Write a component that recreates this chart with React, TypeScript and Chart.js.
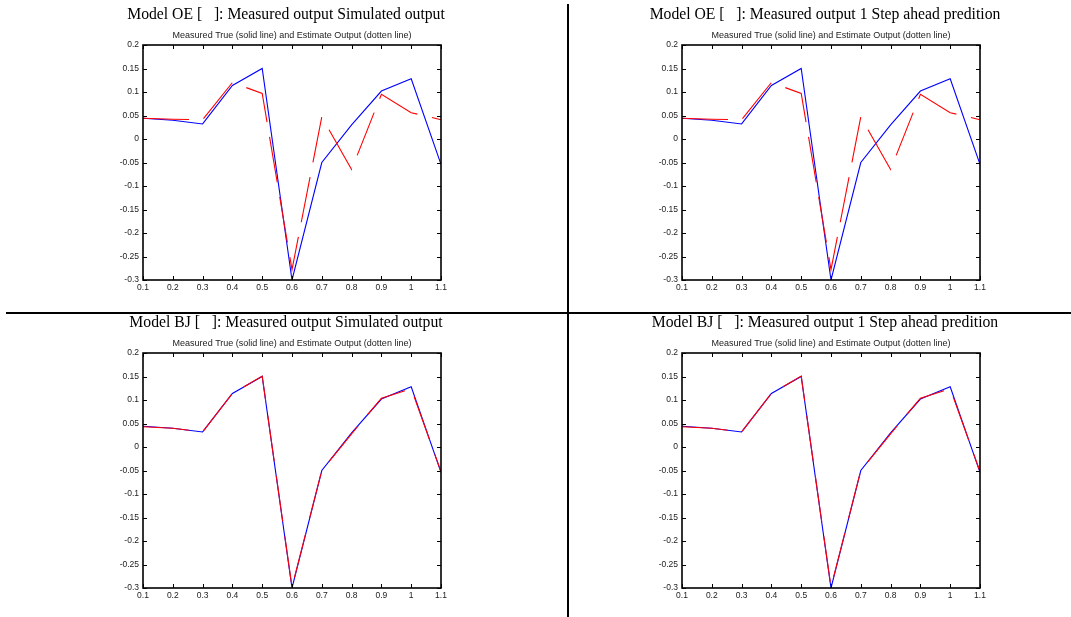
import React, { useEffect, useRef } from "react";
import { Chart, registerables } from "chart.js";

Chart.register(...registerables);

// ---------------- data ----------------
const xValues = [0.1, 0.2, 0.3, 0.4, 0.5, 0.6, 0.7, 0.8, 0.9, 1.0, 1.1];

const measuredOutput = [0.044, 0.040, 0.032, 0.114, 0.150, -0.300, -0.050, 0.030, 0.102, 0.128, -0.054];
const oeSimulated = [0.044, 0.042, 0.041, 0.120, 0.097, -0.278, 0.047, -0.065, 0.095, 0.056, 0.041];
const oePredicted = [0.044, 0.042, 0.041, 0.120, 0.097, -0.278, 0.047, -0.065, 0.095, 0.056, 0.041];
const bjSimulated = [0.043, 0.040, 0.032, 0.114, 0.151, -0.298, -0.050, 0.028, 0.104, 0.124, -0.052];
const bjPredicted = [0.043, 0.040, 0.032, 0.114, 0.151, -0.298, -0.050, 0.028, 0.104, 0.124, -0.052];

const xTicks = [0.1, 0.2, 0.3, 0.4, 0.5, 0.6, 0.7, 0.8, 0.9, 1.0, 1.1];
const yTicks = [-0.3, -0.25, -0.2, -0.15, -0.1, -0.05, 0, 0.05, 0.1, 0.15, 0.2];

const panelTitles = [
  "Model OE [   ]: Measured output Simulated output",
  "Model OE [   ]: Measured output 1 Step ahead predition",
  "Model BJ [   ]: Measured output Simulated output",
  "Model BJ [   ]: Measured output 1 Step ahead predition",
];
const subtitleText = "Measured True (solid line) and Estimate Output (dotten line)";

const fmt = (v: number) => String(Number(Number(v).toFixed(2)));

// ---------------- layout of the four panels ----------------
type Panel = {
  left: number; top: number; width: number; height: number;
  padTop: number; padRight: number; yAxisW: number; xAxisH: number;
  title: string; estimate: number[];
};

const panels: Panel[] = [
  { left: 0, top: 0, width: 566, height: 312, padTop: 45, padRight: 125, yAxisW: 143, xAxisH: 32, title: panelTitles[0], estimate: oeSimulated },
  { left: 570, top: 0, width: 501, height: 312, padTop: 45, padRight: 91, yAxisW: 112, xAxisH: 32, title: panelTitles[1], estimate: oePredicted },
  { left: 0, top: 315, width: 566, height: 302, padTop: 38, padRight: 125, yAxisW: 143, xAxisH: 29, title: panelTitles[2], estimate: bjSimulated },
  { left: 570, top: 315, width: 501, height: 302, padTop: 38, padRight: 91, yAxisW: 112, xAxisH: 29, title: panelTitles[3], estimate: bjPredicted },
];

const framePlugin = {
  id: "matlabFrame",
  afterDatasetsDraw(chart: any, _args: any, opts: any) {
    const { ctx, chartArea } = chart;
    const { left, top, right, bottom } = chartArea;
    const xs = chart.scales.x;
    const ys = chart.scales.y;
    ctx.save();
    ctx.strokeStyle = "#000";
    ctx.lineWidth = 1;
    ctx.beginPath();
    const tl = 4;
    xs.ticks.forEach((t: any) => {
      const px = Math.round(xs.getPixelForValue(t.value)) + 0.5;
      ctx.moveTo(px, bottom);
      ctx.lineTo(px, bottom - tl);
      ctx.moveTo(px, top);
      ctx.lineTo(px, top + tl);
    });
    ys.ticks.forEach((t: any) => {
      const py = Math.round(ys.getPixelForValue(t.value)) + 0.5;
      ctx.moveTo(left, py);
      ctx.lineTo(left + tl, py);
      ctx.moveTo(right, py);
      ctx.lineTo(right - tl, py);
    });
    ctx.stroke();
    ctx.lineWidth = 1.6;
    ctx.strokeRect(left, top, right - left, bottom - top);

    const cx = (left + right) / 2;
    ctx.fillStyle = "#000";
    ctx.textAlign = "center";
    ctx.textBaseline = "middle";
    ctx.font = '15.7px "Liberation Serif"';
    ctx.fillText(opts.title, cx - 6, top - 30);
    ctx.fillStyle = "#222";
    ctx.font = '9px "Liberation Sans"';
    ctx.fillText(opts.subtitle, cx, top - 9);
    ctx.restore();
  },
};

function PanelChart({ p }: { p: Panel }) {
  const ref = useRef<HTMLCanvasElement | null>(null);
  useEffect(() => {
    const canvas = ref.current!;
    const tickFont = { family: '"Liberation Sans", Arial, sans-serif', size: 8.5 };
    const chart = new Chart(canvas, {
      type: "line",
      data: {
        datasets: [
          {
            data: xValues.map((x, i) => ({ x, y: p.estimate[i] })),
            borderColor: "#ff0000",
            borderWidth: 1.1,
            borderDash: [46, 15],
            pointRadius: 0,
            tension: 0,
            order: 0,
          },
          {
            data: xValues.map((x, i) => ({ x, y: measuredOutput[i] })),
            borderColor: "#0000ff",
            borderWidth: 1.1,
            pointRadius: 0,
            tension: 0,
            order: 1,
          },
        ],
      },
      options: {
        responsive: false,
        animation: false,
        events: [],
        layout: { padding: { top: p.padTop, right: p.padRight, left: 0, bottom: 0 } },
        plugins: {
          legend: { display: false },
          tooltip: { enabled: false },
          title: { display: false },
          matlabFrame: { title: p.title, subtitle: subtitleText },
        } as any,
        scales: {
          x: {
            type: "linear",
            min: 0.1,
            max: 1.1,
            grid: { display: false, drawTicks: false },
            border: { display: false },
            afterBuildTicks: (s: any) => {
              s.ticks = xTicks.map((v) => ({ value: v }));
            },
            afterFit: (s: any) => {
              s.height = p.xAxisH;
            },
            ticks: {
              autoSkip: false,
              maxRotation: 0,
              padding: 3,
              color: "#222",
              font: tickFont,
              callback: (v: any) => fmt(v),
            },
          },
          y: {
            type: "linear",
            min: -0.3,
            max: 0.2,
            grid: { display: false, drawTicks: false },
            border: { display: false },
            afterBuildTicks: (s: any) => {
              s.ticks = yTicks.map((v) => ({ value: v }));
            },
            afterFit: (s: any) => {
              s.width = p.yAxisW;
            },
            ticks: {
              autoSkip: false,
              padding: 4,
              color: "#222",
              font: tickFont,
              callback: (v: any) => fmt(v),
            },
          },
        },
      },
      plugins: [framePlugin as any],
    });
    return () => chart.destroy();
  }, [p]);
  return (
    <canvas
      ref={ref}
      width={p.width}
      height={p.height}
      style={{ position: "absolute", left: p.left, top: p.top, width: p.width, height: p.height }}
    />
  );
}

export default function App() {
  return (
    <div
      style={{
        position: "fixed",
        left: 0,
        top: 0,
        width: 1071,
        height: 617,
        background: "#fff",
        overflow: "hidden",
      }}
    >
      {panels.map((p, i) => (
        <PanelChart key={i} p={p} />
      ))}
      <div style={{ position: "absolute", left: 567, top: 4, width: 2, height: 613, background: "#000" }} />
      <div style={{ position: "absolute", left: 6, top: 312, width: 1065, height: 2, background: "#000" }} />
    </div>
  );
}
